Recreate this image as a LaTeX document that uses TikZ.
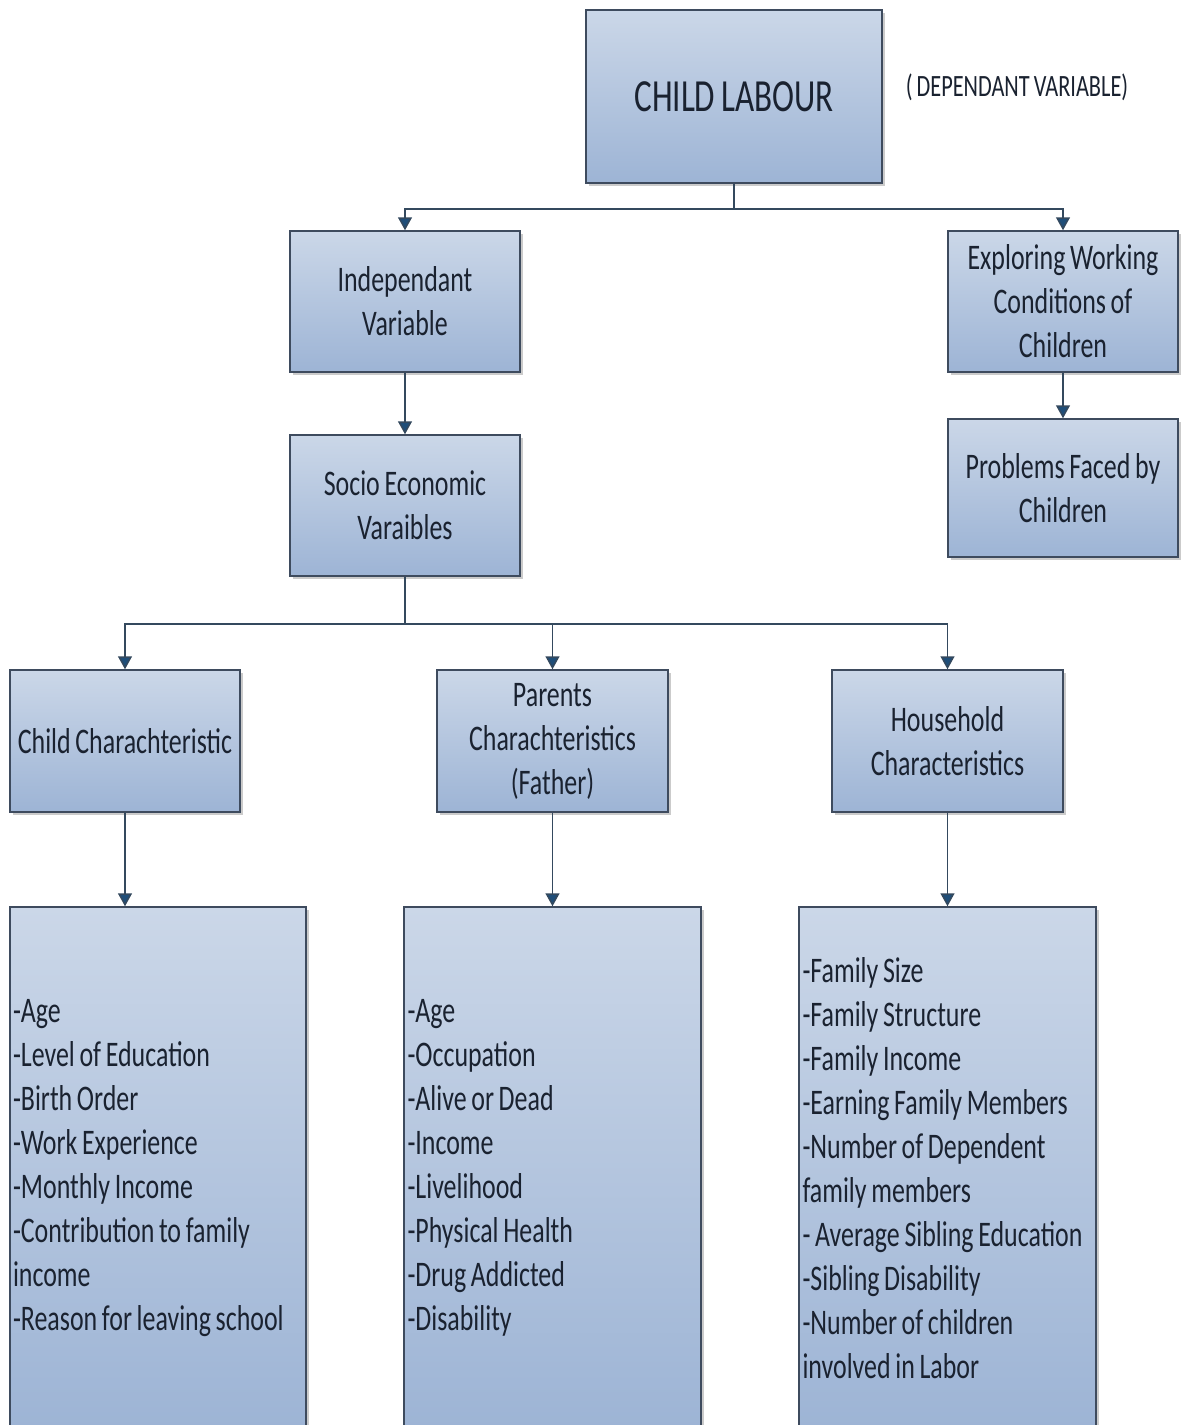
\documentclass[tikz,border=0pt]{standalone}
\usepackage{fontspec}
\setmainfont{Carlito}[FakeStretch=0.72, WordSpace=0.8]
\usetikzlibrary{arrows.meta,shadows}
\definecolor{boxline}{HTML}{3E4B5E}
\definecolor{boxtop}{HTML}{CBD7E8}
\definecolor{boxbot}{HTML}{9DB4D5}
\definecolor{conn}{HTML}{34495E}
\definecolor{tipc}{HTML}{1F4E79}
\definecolor{txt}{HTML}{1A2230}
\tikzset{
  box/.style={draw=boxline, line width=1.5pt, top color=boxtop, bottom color=boxbot,
    drop shadow={shadow xshift=3pt, shadow yshift=-3pt, fill=black!45, opacity=.45},
    align=center, inner sep=0pt, text=txt, font=\fontsize{36}{44}\selectfont},
  listbox/.style={box, align=flush left, text width=290pt, inner xsep=3pt},
  conn/.style={draw=conn, line width=1.5pt},
  arr/.style={conn, -{Triangle[width=14pt,length=13pt,fill=tipc]}}
}
\begin{document}
\hyphenpenalty=10000
\begin{tikzpicture}[x=1pt,y=-1pt]
\useasboundingbox (0,0) rectangle (1181,1425);
\clip (0,0) rectangle (1181,1425);
\fill[white] (0,0) rectangle (1181,1425);

\node[box, minimum width=296pt, minimum height=173pt, font=\fontsize{46}{52}\selectfont] (top) at (734,96.5) {CHILD LABOUR};
\node[text=txt, font=\fontsize{31}{36}\selectfont, inner sep=0pt] (dep) at (1017,87) {( DEPENDANT VARIABLE)};

\node[box, minimum width=230pt, minimum height=141pt] (indep) at (405,301.5) {Independant\\Variable};
\node[box, minimum width=230pt, minimum height=141pt] (explore) at (1063,301.5) {Exploring Working\\Conditions of\\Children};
\node[box, minimum width=230pt, minimum height=138pt] (probs) at (1063,488) {Problems Faced by\\Children};
\node[box, minimum width=230pt, minimum height=141pt] (socio) at (405,505.5) {Socio Economic\\Varaibles};

\node[box, minimum width=230pt, minimum height=142pt] (child) at (125,741) {Child Charachteristic};
\node[box, minimum width=231pt, minimum height=142pt] (parents) at (552.5,741) {Parents\\Charachteristics\\(Father)};
\node[box, minimum width=231pt, minimum height=142pt] (house) at (947.5,741) {Household\\Characteristics};

\node[listbox, minimum width=296pt, minimum height=522pt] (childlist) at (158,1168) {-Age\\-Level of Education\\-Birth Order\\-Work Experience\\-Monthly Income\\-Contribution to family\\income\\-Reason for leaving school};
\node[listbox, minimum width=297pt, minimum height=522pt] (parlist) at (552.5,1168) {-Age\\-Occupation\\-Alive or Dead\\-Income\\-Livelihood\\-Physical Health\\-Drug Addicted\\-Disability};
\node[listbox, minimum width=297pt, minimum height=522pt] (houselist) at (947.5,1168) {-Family Size\\-Family Structure\\-Family Income\\-Earning Family Members\\-Number of Dependent\\family members\\- Average Sibling Education\\-Sibling Disability\\-Number of children\\involved in Labor};

\draw[conn] (top.south) -- ++(0,25) coordinate (j1);
\draw[arr] (j1) -| (indep.north);
\draw[arr] (j1) -| (explore.north);
\draw[arr] (indep.south) -- (socio.north);
\draw[arr] (explore.south) -- (probs.north);
\draw[conn] (socio.south) -- ++(0,47) coordinate (j2);
\draw[arr] (j2) -| (child.north);
\draw[arr] (j2) -| (parents.north);
\draw[arr] (j2) -| (house.north);
\draw[arr] (child.south) -- (child.south |- childlist.north);
\draw[arr] (parents.south) -- (parlist.north);
\draw[arr] (house.south) -- (houselist.north);
\end{tikzpicture}
\end{document}
